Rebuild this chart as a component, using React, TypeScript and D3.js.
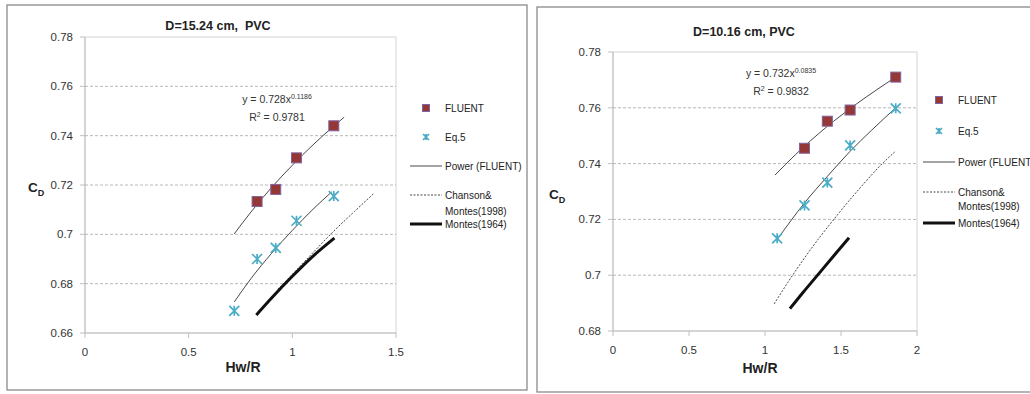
import React from 'react';
import * as d3 from 'd3';

const FONT = "'Liberation Sans', Arial, sans-serif";

type Pt = [number, number];

// ---- D = 15.24 cm, PVC ----
const fluent15: Pt[] = [[0.83, 0.7133], [0.92, 0.7182], [1.02, 0.731], [1.2, 0.744]];
const eq5_15: Pt[] = [[0.72, 0.669], [0.83, 0.690], [0.92, 0.6945], [1.02, 0.7055], [1.2, 0.7155]];
const powerFluent15: Pt[] = [[0.72, 0.7002], [0.8, 0.709], [0.9, 0.719], [1.0, 0.728], [1.1, 0.7363], [1.25, 0.7475]];
const powerEq5_15: Pt[] = [[0.72, 0.6726], [0.8, 0.682], [0.9, 0.6923], [1.0, 0.7016], [1.1, 0.7102], [1.19, 0.7172]];
const chanson15: Pt[] = [[0.93, 0.6777], [1.0, 0.6838], [1.1, 0.6926], [1.184, 0.700], [1.3, 0.7093], [1.391, 0.7164]];
const montes15: Pt[] = [[0.826, 0.6673], [0.9, 0.6742], [1.0, 0.683], [1.1, 0.6912], [1.203, 0.6985]];
const yTicks15 = [0.66, 0.68, 0.7, 0.72, 0.74, 0.76, 0.78];
const yLabels15 = ['0.66', '0.68', '0.7', '0.72', '0.74', '0.76', '0.78'];
const xTicks15 = [0, 0.5, 1, 1.5];
const xLabels15 = ['0', '0.5', '1', '1.5'];

// ---- D = 10.16 cm, PVC ----
const fluent10: Pt[] = [[1.26, 0.7455], [1.41, 0.7552], [1.56, 0.7592], [1.86, 0.771]];
const eq5_10: Pt[] = [[1.08, 0.7132], [1.26, 0.725], [1.41, 0.7332], [1.56, 0.7465], [1.86, 0.7598]];
const powerFluent10: Pt[] = [[1.066, 0.7359], [1.2, 0.7432], [1.4, 0.7529], [1.6, 0.7613], [1.86, 0.771]];
const powerEq5_10: Pt[] = [[1.08, 0.7128], [1.26, 0.7259], [1.41, 0.7354], [1.56, 0.7444], [1.7, 0.7519], [1.86, 0.760]];
const chanson10: Pt[] = [[1.06, 0.6897], [1.15, 0.6974], [1.25, 0.7054], [1.35, 0.7129], [1.45, 0.7198], [1.55, 0.7265], [1.65, 0.7328], [1.75, 0.7388], [1.86, 0.7445]];
const montes10: Pt[] = [[1.164, 0.688], [1.25, 0.6938], [1.35, 0.7003], [1.45, 0.7068], [1.553, 0.7134]];
const yTicks10 = [0.68, 0.7, 0.72, 0.74, 0.76, 0.78];
const yLabels10 = ['0.68', '0.7', '0.72', '0.74', '0.76', '0.78'];
const xTicks10 = [0, 0.5, 1, 1.5, 2];
const xLabels10 = ['0', '0.5', '1', '1.5', '2'];

const SQ_FILL = '#953735';
const SQ_STROKE = '#8064A2';
const STAR = '#4BACC6';

const starPath = (s: number) =>
  `M${-s},${-s}L${s},${s}M${s},${-s}L${-s},${s}M0,${-s}L0,${s}`;

const Square = ({ x, y, s }: { x: number; y: number; s: number }) => (
  <rect x={x - s / 2} y={y - s / 2} width={s} height={s} fill={SQ_FILL} stroke={SQ_STROKE} strokeWidth={1} />
);

const Star = ({ x, y, s }: { x: number; y: number; s: number }) => (
  <path d={starPath(s)} transform={`translate(${x},${y})`} stroke={STAR} strokeWidth={1.7} fill="none" />
);

type PanelProps = {
  frame: { x: number; y: number; w: number; h: number };
  plot: { l: number; r: number; t: number; b: number };
  xDomain: [number, number];
  yDomain: [number, number];
  xTicks: number[]; xLabels: string[];
  yTicks: number[]; yLabels: string[];
  title: string; titleX: number; titleY: number;
  eqCoef: string; eqExp: string; r2: string; eqX: number; eqY: number;
  fluent: Pt[]; eq5: Pt[]; powerFluent: Pt[]; powerEq5: Pt[]; chanson: Pt[]; montes: Pt[];
  legend: { mx: number; tx: number; lx0: number; lx1: number; ys: number[]; powerLabel: string };
  cdX: number; cdY: number; hwX: number; hwY: number;
};

const Panel = (p: PanelProps) => {
  const x = d3.scaleLinear().domain(p.xDomain).range([p.plot.l, p.plot.r]);
  const y = d3.scaleLinear().domain(p.yDomain).range([p.plot.b, p.plot.t]);
  const line = d3.line<Pt>().x(d => x(d[0])).y(d => y(d[1])).curve(d3.curveMonotoneX);
  const lg = p.legend;
  return (
    <g>
      <rect x={p.frame.x} y={p.frame.y} width={p.frame.w} height={p.frame.h} fill="#fff" stroke="#8a8a8a" strokeWidth={1.3} />
      <text x={p.titleX} y={p.titleY} textAnchor="middle" fontFamily={FONT} fontWeight="bold" fontSize={12.5} fill="#222" style={{ whiteSpace: 'pre' }}>
        {p.title}
      </text>
      {/* plot area */}
      <rect x={p.plot.l} y={p.plot.t} width={p.plot.r - p.plot.l} height={p.plot.b - p.plot.t} fill="none" stroke="#d4d4d4" strokeWidth={1} />
      {p.yTicks.slice(1, -1).map(t => (
        <line key={t} x1={p.plot.l} x2={p.plot.r} y1={y(t)} y2={y(t)} stroke="#a6a6a6" strokeWidth={0.8} strokeDasharray="3,2" />
      ))}
      {/* axes */}
      <line x1={p.plot.l} x2={p.plot.l} y1={p.plot.t} y2={p.plot.b} stroke="#bfbfbf" />
      <line x1={p.plot.l} x2={p.plot.r} y1={p.plot.b} y2={p.plot.b} stroke="#bfbfbf" />
      {p.yTicks.map((t, i) => (
        <g key={t}>
          <line x1={p.plot.l - 5} x2={p.plot.l} y1={y(t)} y2={y(t)} stroke="#bfbfbf" />
          <text x={p.plot.l - 12} y={y(t) + 4} textAnchor="end" fontFamily={FONT} fontSize={11.5} fill="#333">{p.yLabels[i]}</text>
        </g>
      ))}
      {p.xTicks.map((t, i) => (
        <g key={t}>
          <line x1={x(t)} x2={x(t)} y1={p.plot.b} y2={p.plot.b + 5} stroke="#bfbfbf" />
          <text x={x(t)} y={p.plot.b + 23} textAnchor="middle" fontFamily={FONT} fontSize={11.5} fill="#333">{p.xLabels[i]}</text>
        </g>
      ))}
      <text x={p.hwX} y={p.hwY} textAnchor="middle" fontFamily={FONT} fontWeight="bold" fontSize={14} fill="#222">Hw/R</text>
      <text x={p.cdX} y={p.cdY} textAnchor="middle" fontFamily={FONT} fontWeight="bold" fontSize={13.5} fill="#222">
        C<tspan fontSize={9} dy={4}>D</tspan>
      </text>
      {/* series */}
      <path d={line(p.chanson) || ''} fill="none" stroke="#333" strokeWidth={0.9} strokeDasharray="2,1.5" />
      <path d={line(p.montes) || ''} fill="none" stroke="#111" strokeWidth={3} />
      <path d={line(p.powerEq5) || ''} fill="none" stroke="#333" strokeWidth={0.9} />
      <path d={line(p.powerFluent) || ''} fill="none" stroke="#333" strokeWidth={0.9} />
      {p.eq5.map((d, i) => <Star key={i} x={x(d[0])} y={y(d[1])} s={5} />)}
      {p.fluent.map((d, i) => <Square key={i} x={x(d[0])} y={y(d[1])} s={10} />)}
      {/* trend equation */}
      <text x={p.eqX} y={p.eqY} textAnchor="middle" fontFamily={FONT} fontSize={10.5} fill="#333">
        {`y = ${p.eqCoef}x`}<tspan fontSize={7} dy={-4}>{p.eqExp}</tspan>
      </text>
      <text x={p.eqX} y={p.eqY + 18} textAnchor="middle" fontFamily={FONT} fontSize={10.5} fill="#333">
        R<tspan fontSize={7} dy={-4}>2</tspan><tspan dy={4}>{` = ${p.r2}`}</tspan>
      </text>
      {/* legend */}
      <Square x={lg.mx} y={lg.ys[0]} s={7} />
      <text x={lg.tx} y={lg.ys[0] + 4} fontFamily={FONT} fontSize={10} fill="#222">FLUENT</text>
      <Star x={lg.mx} y={lg.ys[1]} s={3} />
      <text x={lg.tx} y={lg.ys[1] + 4} fontFamily={FONT} fontSize={10} fill="#222">Eq.5</text>
      <line x1={lg.lx0} x2={lg.lx1} y1={lg.ys[2]} y2={lg.ys[2]} stroke="#333" strokeWidth={0.9} />
      <text x={lg.lx1 + 3} y={lg.ys[2] + 4} fontFamily={FONT} fontSize={10} fill="#222">{lg.powerLabel}</text>
      <line x1={lg.lx0} x2={lg.lx1} y1={lg.ys[3]} y2={lg.ys[3]} stroke="#333" strokeWidth={0.9} strokeDasharray="2,1.5" />
      <text x={lg.lx1 + 3} y={lg.ys[3] + 4} fontFamily={FONT} fontSize={10} fill="#222">Chanson&amp;</text>
      <text x={lg.lx1 + 3} y={lg.ys[4] + 4} fontFamily={FONT} fontSize={10} fill="#222">Montes(1998)</text>
      <line x1={lg.lx0} x2={lg.lx1} y1={lg.ys[5]} y2={lg.ys[5]} stroke="#111" strokeWidth={3} />
      <text x={lg.lx1 + 3} y={lg.ys[5] + 4} fontFamily={FONT} fontSize={10} fill="#222">Montes(1964)</text>
    </g>
  );
};

export default function App() {
  return (
    <svg width={1030} height={394} style={{ position: 'absolute', left: 0, top: 0, background: '#fff' }}>
      <Panel
        frame={{ x: 7, y: 5, w: 520, h: 385 }}
        plot={{ l: 85, r: 396, t: 37, b: 333 }}
        xDomain={[0, 1.5]} yDomain={[0.66, 0.78]}
        xTicks={xTicks15} xLabels={xLabels15} yTicks={yTicks15} yLabels={yLabels15}
        title="D=15.24 cm,  PVC" titleX={218} titleY={30}
        eqCoef="0.728" eqExp="0.1186" r2="0.9781" eqX={277} eqY={103}
        fluent={fluent15} eq5={eq5_15} powerFluent={powerFluent15} powerEq5={powerEq5_15}
        chanson={chanson15} montes={montes15}
        legend={{ mx: 426, tx: 445, lx0: 410, lx1: 442, ys: [108, 137, 166, 195, 211, 224], powerLabel: 'Power (FLUENT)' }}
        cdX={36} cdY={192} hwX={243} hwY={372}
      />
      <Panel
        frame={{ x: 537, y: 7, w: 510, h: 385 }}
        plot={{ l: 613, r: 917, t: 52, b: 331 }}
        xDomain={[0, 2]} yDomain={[0.68, 0.78]}
        xTicks={xTicks10} xLabels={xLabels10} yTicks={yTicks10} yLabels={yLabels10}
        title="D=10.16 cm, PVC" titleX={744} titleY={36}
        eqCoef="0.732" eqExp="0.0835" r2="0.9832" eqX={781} eqY={77}
        fluent={fluent10} eq5={eq5_10} powerFluent={powerFluent10} powerEq5={powerEq5_10}
        chanson={chanson10} montes={montes10}
        legend={{ mx: 939, tx: 958, lx0: 923, lx1: 955, ys: [100, 131, 162, 192, 206, 223], powerLabel: 'Power (FLUENT' }}
        cdX={557} cdY={199} hwX={760} hwY={373}
      />
    </svg>
  );
}
